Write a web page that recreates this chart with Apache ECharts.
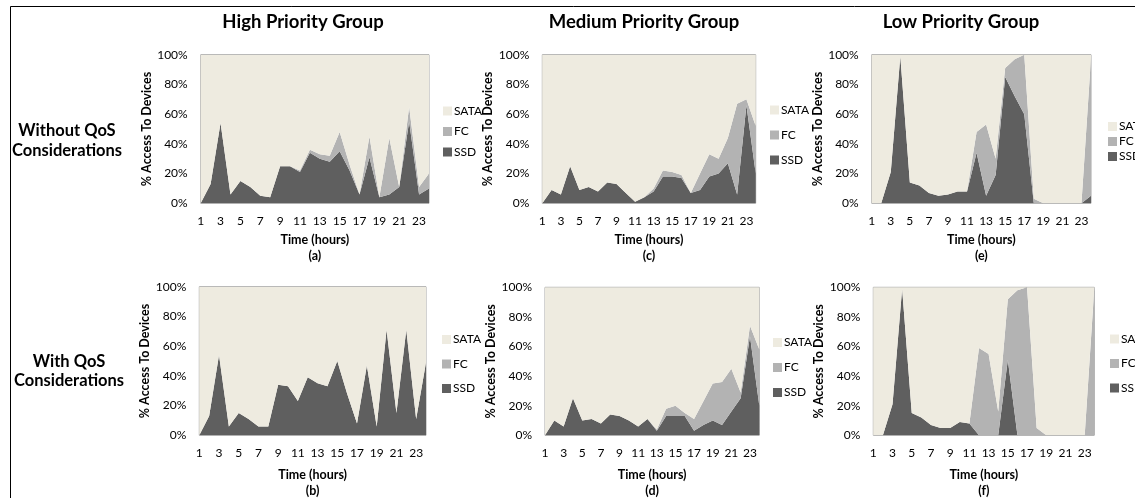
<!DOCTYPE html>
<html>
<head>
<meta charset="utf-8">
<script src="https://cdn.jsdelivr.net/npm/echarts@6/dist/echarts.min.js"></script>
<style>
html,body{margin:0;padding:0;background:#fff;}
#main{width:1135px;height:498px;}
</style>
</head>
<body>
<div id="main"></div>
<script>
// 时间轴
var hours = ['1','2','3','4','5','6','7','8','9','10','11','12','13','14','15','16','17','18','19','20','21','22','23','24'];
var devices = ['SATA', 'FC', 'SSD'];
var yTicks = [0, 20, 40, 60, 80, 100];

// (a) High Priority, without QoS
var ssdA  = [0,13,54,6,15,11,5,4,25,25,21,34,30,28,35,22,6,31,4,6,11,55,6,10];
var fcA   = [0,0,0,0,0,0,0,0,0,0,1,2,3,4,13,4,0,14,0,38,0,10,5,10];
var sataA = [100,87,46,94,85,89,95,96,75,75,78,64,67,68,52,74,94,55,96,56,89,35,89,80];
// (b) High Priority, with QoS
var ssdB  = [0,13,54,6,15,11,6,6,34,33,23,39,35,33,50,28,8,47,6,71,15,71,11,49];
var fcB   = [0,0,0,0,0,0,0,0,0,0,0,0,0,0,0,0,0,0,0,0,0,0,0,0];
var sataB = [100,87,46,94,85,89,94,94,66,67,77,61,65,67,50,72,92,53,94,29,85,29,89,51];
// (c) Medium Priority, without QoS
var ssdC  = [0,9,6,25,9,11,8,14,13,7,1,4,8,18,18,17,7,9,18,20,27,6,66,20];
var fcC   = [0,0,0,0,0,0,0,0,0,0,0,0,2,4,3,2,0,11,15,10,17,61,4,32];
var sataC = [100,91,94,75,91,89,92,86,87,93,99,96,90,78,79,81,93,80,67,70,56,33,30,48];
// (d) Medium Priority, with QoS
var ssdD  = [0,10,6,25,10,11,8,14,13,10,6,11,3,13,13,13,3,7,10,7,16,25,67,20];
var fcD   = [0,0,0,0,0,0,0,0,0,0,0,0,1,5,7,2,8,16,25,29,29,4,7,38];
var sataD = [100,90,94,75,90,89,92,86,87,90,94,89,96,82,80,85,89,77,65,64,55,71,26,42];
// (e) Low Priority, without QoS
var ssdE  = [0,0,21,99,14,12,7,5,6,8,8,34,5,19,85,72,60,0,0,0,0,0,0,5];
var fcE   = [0,0,0,0,0,0,0,0,0,0,0,14,48,11,6,25,40,3,0,0,0,0,0,93];
var sataE = [100,100,79,1,86,88,93,95,94,92,92,52,47,70,9,3,0,97,100,100,100,100,100,2];
// (f) Low Priority, with QoS
var ssdF  = [0,0,21,99,15,12,7,5,5,9,8,0,0,0,51,0,0,0,0,0,0,0,0,0];
var fcF   = [0,0,0,0,0,0,0,0,0,0,0,59,55,16,41,98,100,5,0,0,0,0,0,99];
var sataF = [100,100,79,1,85,88,93,95,95,91,92,41,45,84,8,2,0,95,100,100,100,100,100,1];

var FONT = 'Lato, "Liberation Sans", sans-serif';
var colors = {SSD: '#5f5f5f', FC: '#b3b3b3', SATA: '#eeebe0'};

// 每个小图: 数据 + 位置
var panels = [
	{tag:'(a)', ssd:ssdA, fc:fcA, sata:sataA, grid:[200.7,54.7,228.3,148.6], legend:[438,100,8.5], nameGap:30},
	{tag:'(c)', ssd:ssdC, fc:fcC, sata:sataC, grid:[542.3,54.7,213.4,148.6], legend:[765,99,13], nameGap:30},
	{tag:'(e)', ssd:ssdE, fc:fcE, sata:sataE, grid:[871.7,54.7,219.3,148.6], legend:[1103,115.5,3], nameGap:30},
	{tag:'(b)', ssd:ssdB, fc:fcB, sata:sataB, grid:[199.3,286.7,226.7,148.6], legend:[437,328.5,12.5], nameGap:33},
	{tag:'(d)', ssd:ssdD, fc:fcD, sata:sataD, grid:[545,287.3,214.3,148], legend:[768,331.5,13], nameGap:33},
	{tag:'(f)', ssd:ssdF, fc:fcF, sata:sataF, grid:[873.3,287.3,221,148], legend:[1105,328,12.5], nameGap:33}
];

var grids = [], xAxes = [], yAxes = [], series = [], legends = [];
var graphics = [
	{type:'rect', shape:{x:10.5, y:6.5, width:1200, height:600}, style:{fill:'none', stroke:'#000', lineWidth:1}, silent:true},
	{type:'text', x:303, y:22, style:{text:'High Priority Group', font:'bold 18.5px ' + FONT, fill:'#000', align:'center', verticalAlign:'middle'}},
	{type:'text', x:644, y:22, style:{text:'Medium Priority Group', font:'bold 18.5px ' + FONT, fill:'#000', align:'center', verticalAlign:'middle'}},
	{type:'text', x:961, y:22, style:{text:'Low Priority Group', font:'bold 18.5px ' + FONT, fill:'#000', align:'center', verticalAlign:'middle'}},
	{type:'text', x:67, y:140.5, style:{text:'Without QoS\nConsiderations', font:'bold 16.5px ' + FONT, lineHeight:19.5, fill:'#000', align:'center', verticalAlign:'middle'}},
	{type:'text', x:69, y:371, style:{text:'With QoS\nConsiderations', font:'bold 16.5px ' + FONT, lineHeight:19.5, fill:'#000', align:'center', verticalAlign:'middle'}}
];

panels.forEach(function(p, i){
	var g = p.grid;
	grids.push({left:g[0], top:g[1], width:g[2], height:g[3], show:true, borderColor:'#a6a6a6', borderWidth:1, backgroundColor:'transparent'});
	xAxes.push({
		gridIndex:i, type:'category', data:hours, boundaryGap:false,
		axisLine:{show:false}, axisTick:{show:false}, splitLine:{show:false},
		axisLabel:{interval:1, color:'#000', fontSize:12, fontFamily:FONT, margin:12},
		name:'Time (hours)', nameLocation:'middle', nameGap:p.nameGap,
		nameTextStyle:{color:'#000', fontSize:12.5, fontWeight:'bold', fontFamily:FONT}
	});
	yAxes.push({
		gridIndex:i, type:'value', min:yTicks[0], max:yTicks[yTicks.length-1], interval:20,
		axisLine:{show:false}, axisTick:{show:false}, splitLine:{show:false},
		axisLabel:{formatter:'{value}%', color:'#000', fontSize:12, fontFamily:FONT, margin:13},
		name:'% Access To Devices', nameLocation:'middle', nameGap:46,
		nameTextStyle:{color:'#000', fontSize:12.5, fontWeight:'bold', fontFamily:FONT}
	});
	// 堆叠顺序: SSD 在下, FC 中间, SATA 在上
	[['SSD', p.ssd], ['FC', p.fc], ['SATA', p.sata]].forEach(function(s){
		series.push({
			name:s[0], type:'line', xAxisIndex:i, yAxisIndex:i, stack:'st'+i,
			data:s[1], showSymbol:false, symbol:'none',
			lineStyle:{width:0}, areaStyle:{color:colors[s[0]], opacity:1},
			itemStyle:{color:colors[s[0]]}, emphasis:{disabled:true}
		});
	});
	legends.push({
		orient:'vertical', left:p.legend[0], top:p.legend[1], itemGap:p.legend[2],
		itemWidth:9, itemHeight:9, icon:'rect', data:devices, selectedMode:false,
		textStyle:{color:'#000', fontSize:12, fontFamily:FONT, padding:[0,0,0,-3]}
	});
	graphics.push({type:'text', x:g[0] + g[2] / 2, y:(i < 3 ? 256 : 491), style:{text:p.tag, font:'bold 12.5px ' + FONT, fill:'#000', align:'center', verticalAlign:'middle'}});
});

var myChart = echarts.init(document.getElementById('main'));
var options = {
	animation:false,
	backgroundColor:'#fff',
	grid:grids,
	xAxis:xAxes,
	yAxis:yAxes,
	legend:legends,
	series:series,
	graphic:graphics
};
myChart.setOption(options);
</script>
</body>
</html>
